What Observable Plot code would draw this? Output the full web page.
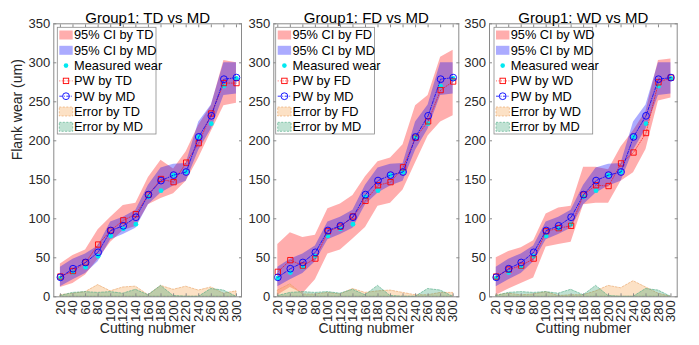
<!DOCTYPE html>
<html><head><meta charset="utf-8">
<script src="https://cdn.jsdelivr.net/npm/d3@7"></script>
<script src="https://cdn.jsdelivr.net/npm/@observablehq/plot@0.6"></script>
<style>
body{margin:0;background:#fff;}
#chart{position:relative;width:699px;height:345px;font-family:"Liberation Sans",Arial,Helvetica,sans-serif;}
#chart svg{position:absolute;top:0;overflow:visible;}
</style></head><body><div id="chart"></div>
<script>
// ---- data ----
const cutting = [20,40,60,80,100,120,140,160,180,200,220,240,260,280,300];
const yTicks = [0,50,100,150,200,250,300,350];
const measured = [24,31,38,52,78,87,93,128,136,156,160,205,222,270,280];
const pwMD   = [25,36,44,57,85,91,102,131,149,156,160,205,232,279,281];
const ciMDlo = [13,22,30,45,73,80,88,118,133,142,148,188,215,258,260];
const ciMDhi = [38,48,55,65,96,102,111,143,165,170,171,224,246,300,300];
const errMD  = [1,5,6,5,6,4,9,2,14,1,0,0,10,8,0];

const pwTD   = [26,33,44,67,85,98,106,131,151,147,172,197,235,274,274];
const ciTDlo = [12,17,28,48,70,85,90,118,126,132,148,178,212,245,248];
const ciTDhi = [42,53,60,86,102,117,120,153,175,164,186,220,245,303,300];
const errTD  = [2,4,6,15,7,12,13,2,14,9,13,8,12,4,7];

const pwFD   = [32,47,40,49,84,90,103,123,143,147,166,204,225,265,276];
const ciFDlo = [2,12,4,22,55,60,74,89,116,120,137,172,206,224,232];
const ciFDhi = [67,82,76,79,113,119,130,154,173,178,195,245,258,307,316];
const errFD  = [8,16,3,3,5,3,10,5,7,8,5,2,2,5,5];

const pwWD   = [26,35,40,49,84,88,91,131,143,142,171,185,210,275,281];
const ciWDlo = [2,10,17,24,64,67,70,118,120,120,148,159,189,251,255];
const ciWDhi = [50,58,63,72,106,114,116,166,166,163,192,213,238,303,305];
const errWD  = [2,4,2,3,6,1,2,2,7,14,11,20,12,4,0];

const methods = ["TD","FD","WD"];
const xLabel = "Cutting nubmer";
const yLabel = "Flank wear (um)";

// ---- layout ----
const panels = [
  {m:"TD", pw:pwTD, lo:ciTDlo, hi:ciTDhi, err:errTD, left:0,   width:245, mL:53.3, mR:4,   dom:[9.5,308], legX:4,   yLab:true},
  {m:"FD", pw:pwFD, lo:ciFDlo, hi:ciFDhi, err:errFD, left:245, width:220, mL:28.3, mR:6.7, dom:[13.6,309], legX:2.4, yLab:false},
  {m:"WD", pw:pwWD, lo:ciWDlo, hi:ciWDhi, err:errWD, left:465, width:234, mL:24,   mR:22.3,dom:[9.2,310], legX:5,   yLab:false}
];

const FONT = '"Liberation Sans", Arial, Helvetica, sans-serif';
const C = {
  ciRed:"#ff0000", ciBlue:"#0000ff", meas:"#00e8f0", red:"#ff0000", blue:"#0000ff",
  errOr:"#f6a85a", errOrS:"#e8a060", errGr:"#2f9e6e", errGrS:"#4aa882", frame:"#8a8a8a", text:"#262626"
};

function legend(svg, x0, m) {
  const g = d3.select(svg).append("g").attr("transform", `translate(${x0},27.3)`)
    .style("font-family", FONT).style("font-size", "12.8px").attr("text-anchor", "start");
  g.append("rect").attr("width", 98.7).attr("height", 106.7).attr("fill", "white")
    .attr("stroke", C.frame).attr("stroke-width", 0.8);
  const labels = [`95% CI by ${m}`, "95% CI by MD", "Measured wear", `PW by ${m}`, "PW by MD", `Error by ${m}`, "Error by MD"];
  labels.forEach((lab, i) => {
    const cy = 7.7 + i * 15.3;
    const ix0 = 2, ix1 = 15.4, icx = (ix0 + ix1) / 2;
    if (i === 0) g.append("rect").attr("x", ix0).attr("y", cy - 4.5).attr("width", ix1 - ix0).attr("height", 9).attr("fill", C.ciRed).attr("fill-opacity", 0.32);
    if (i === 1) g.append("rect").attr("x", ix0).attr("y", cy - 4.5).attr("width", ix1 - ix0).attr("height", 9).attr("fill", C.ciBlue).attr("fill-opacity", 0.33);
    if (i === 2) g.append("circle").attr("cx", icx).attr("cy", cy).attr("r", 2.3).attr("fill", C.meas);
    if (i === 3) {
      g.append("line").attr("x1", ix0).attr("x2", ix1).attr("y1", cy).attr("y2", cy).attr("stroke", C.red).attr("stroke-width", 0.6).attr("stroke-dasharray", "1,1.5");
      g.append("rect").attr("x", icx - 2.7).attr("y", cy - 2.7).attr("width", 5.4).attr("height", 5.4).attr("fill", "none").attr("stroke", C.red).attr("stroke-width", 0.9);
    }
    if (i === 4) {
      g.append("line").attr("x1", ix0).attr("x2", ix1).attr("y1", cy).attr("y2", cy).attr("stroke", C.blue).attr("stroke-width", 0.8).attr("stroke-dasharray", "3,1.5,1,1.5");
      g.append("circle").attr("cx", icx).attr("cy", cy).attr("r", 3.4).attr("fill", "none").attr("stroke", C.blue).attr("stroke-width", 0.9);
    }
    if (i === 5) g.append("rect").attr("x", ix0).attr("y", cy - 4.5).attr("width", ix1 - ix0).attr("height", 9).attr("fill", C.errOr).attr("fill-opacity", 0.35).attr("stroke", C.errOrS).attr("stroke-width", 0.6).attr("stroke-dasharray", "2,1.5");
    if (i === 6) g.append("rect").attr("x", ix0).attr("y", cy - 4.5).attr("width", ix1 - ix0).attr("height", 9).attr("fill", C.errGr).attr("fill-opacity", 0.3).attr("stroke", C.errGrS).attr("stroke-width", 0.6).attr("stroke-dasharray", "2,1.5");
    g.append("text").attr("x", 16.7).attr("y", cy).attr("dy", "0.35em").attr("text-anchor", "start").attr("fill", "#000").text(lab);
  });
}

const root = document.getElementById("chart");
panels.forEach(p => {
  const rows = cutting.map((c, i) => ({
    c, m: measured[i], pw: p.pw[i], lo: p.lo[i], hi: p.hi[i], err: p.err[i],
    md: pwMD[i], mlo: ciMDlo[i], mhi: ciMDhi[i], emd: errMD[i]
  }));
  const marks = [
    Plot.areaY(rows, {x: "c", y1: "lo", y2: "hi", fill: C.ciRed, fillOpacity: 0.32}),
    Plot.areaY(rows, {x: "c", y1: "mlo", y2: "mhi", fill: C.ciBlue, fillOpacity: 0.33}),
    Plot.dot(rows, {x: "c", y: "m", r: 2.4, fill: C.meas}),
    Plot.line(rows, {x: "c", y: "pw", stroke: C.red, strokeWidth: 0.6, strokeDasharray: "1,1.5"}),
    Plot.dot(rows, {x: "c", y: "pw", symbol: "square", r: 3, stroke: C.red, strokeWidth: 0.9}),
    Plot.line(rows, {x: "c", y: "md", stroke: C.blue, strokeWidth: 0.8, strokeDasharray: "3,1.5,1,1.5"}),
    Plot.dot(rows, {x: "c", y: "md", r: 3.4, stroke: C.blue, strokeWidth: 0.9}),
    Plot.areaY(rows, {x: "c", y: "err", fill: C.errOr, fillOpacity: 0.35, stroke: C.errOrS, strokeWidth: 0.6, strokeDasharray: "2,1.5"}),
    Plot.areaY(rows, {x: "c", y: "emd", fill: C.errGr, fillOpacity: 0.3, stroke: C.errGrS, strokeWidth: 0.6, strokeDasharray: "2,1.5"}),
    Plot.frame({stroke: C.frame, strokeWidth: 1}),
    Plot.axisY({ticks: yTicks, tickSize: 0, tickPadding: 3.5, fontSize: 13, label: null}),
    Plot.axisY({anchor: "left", ticks: yTicks, tickSize: -3, tickFormat: () => "", label: null, stroke: C.frame}),
    Plot.axisY({anchor: "right", ticks: yTicks, tickSize: -3, tickFormat: () => "", label: null, stroke: C.frame}),
    Plot.axisX({ticks: cutting, tickSize: 0, tickRotate: -90, tickPadding: 3.5, fontSize: 13, label: null}),
    Plot.axisX({anchor: "bottom", ticks: cutting, tickSize: -3, tickFormat: () => "", label: null, stroke: C.frame}),
    Plot.axisX({anchor: "top", ticks: cutting, tickSize: -3, tickFormat: () => "", label: null, stroke: C.frame}),
    Plot.text([`Group1: ${p.m} vs MD`], {text: d => d, frameAnchor: "top", dy: -11, fontSize: 15, fill: "#000"}),
    Plot.text([xLabel], {text: d => d, frameAnchor: "bottom", dy: 36, fontSize: 14, fill: C.text})
  ];
  if (p.yLab) marks.push(Plot.text([yLabel], {text: d => d, frameAnchor: "left", dx: -36, rotate: -90, fontSize: 14, fill: C.text}));
  const svg = Plot.plot({
    width: p.width, height: 345,
    marginLeft: p.mL, marginRight: p.mR, marginTop: 23.3, marginBottom: 48.7,
    x: {domain: p.dom}, y: {domain: [0, 350]},
    style: {fontFamily: FONT, fontSize: "13px", color: C.text, background: "white", overflow: "visible"},
    marks
  });
  svg.style.left = p.left + "px";
  root.appendChild(svg);
  legend(svg, p.mL + p.legX, p.m);
});
</script></body></html>
